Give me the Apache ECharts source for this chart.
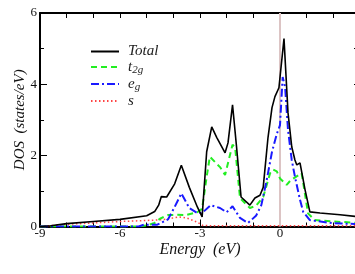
<!DOCTYPE html>
<html><head><meta charset="utf-8">
<script src="https://cdn.jsdelivr.net/npm/echarts@6/dist/echarts.min.js"></script>
<style>html,body{margin:0;padding:0;overflow:hidden;background:#fff;width:355px;height:274px}#c{width:355px;height:274px}</style>
</head><body><div id="c"></div>
<script>
const seriesNames = ['Total', 't2g', 'eg', 's'];
const totalE = [-9,-8.6,-8,-7,-6,-5,-4.7,-4.55,-4.45,-4.25,-3.95,-3.7,-3.4,-3.1,-2.92,-2.75,-2.56,-2.37,-2.06,-1.95,-1.78,-1.63,-1.46,-1.13,-0.94,-0.75,-0.63,-0.45,-0.3,-0.19,-0.04,0.15,0.3,0.44,0.56,0.63,0.75,0.81,0.94,1.12,1.5,2.25,3];
const totalV = [0,0.02,0.08,0.14,0.2,0.3,0.42,0.6,0.84,0.83,1.2,1.72,1.1,0.55,0.27,2.1,2.8,2.5,2.07,2.35,3.42,2.24,0.83,0.6,0.8,0.88,1.1,2.5,3.34,3.65,3.9,5.28,3.2,2.24,1.87,1.73,1.79,1.82,1.03,0.41,0.38,0.33,0.27];
const t2gE = [-9,-5.3,-5.0,-4.7,-4.5,-4.2,-3.9,-3.55,-3.1,-2.92,-2.75,-2.63,-2.25,-2.06,-1.78,-1.68,-1.5,-1.13,-0.9,-0.63,-0.37,-0.26,-0.12,0,0.25,0.4,0.81,0.94,1.05,1.3,2,3];
const t2gV = [0,0,0.03,0.1,0.22,0.32,0.33,0.32,0.4,0.5,1.4,1.96,1.67,1.45,2.3,2.2,0.8,0.52,0.58,0.83,1.5,1.6,1.55,1.35,1.17,1.3,1.5,0.9,0.37,0.18,0.14,0.1];
const egE = [-9,-5.3,-5.1,-4.6,-4.2,-3.95,-3.7,-3.4,-3.1,-2.92,-2.6,-2.25,-2.0,-1.78,-1.5,-1.2,-0.9,-0.7,-0.5,-0.3,-0.12,0,0.1,0.19,0.3,0.44,0.56,0.75,0.87,1.12,2,3];
const egV = [0,0,0.05,0.05,0.2,0.55,0.93,0.52,0.38,0.38,0.6,0.52,0.4,0.57,0.24,0.1,0.3,0.6,1.3,2.1,2.6,2.85,4.2,3.93,2.72,1.87,1.4,0.75,0.41,0.18,0.09,0.07];
const sE = [-9,-8.5,-8,-7,-6,-5,-4.4,-3.8,-3.5,-3.1,-2.9,-2.5,3];
const sV = [0,0.03,0.06,0.1,0.14,0.17,0.19,0.27,0.24,0.12,0.03,0.02,0.02];
const fermiLevel = 0;
const xTicks = [-9,-6,-3,0];
const yTicks = [0,2,4,6];

const pairs = (xs, ys) => xs.map((x, i) => [x, ys[i]]);
const serif = '"Liberation Serif","DejaVu Serif",serif';
const chart = echarts.init(document.getElementById('c'), null, {renderer: 'canvas'});
const tickColor = '#000';
const legendText = {
  Total: '{i|Total}',
  t2g: '{i|t}{sub|2g}',
  eg: '{i|e}{sub|g}',
  s: '{i|s}'
};
chart.setOption({
  animation: false,
  grid: {left: 40, right: -5, top: 13, bottom: 47.5, containLabel: false, outerBoundsMode: 'none'},
  legend: {
    orient: 'vertical', left: 85, top: 39, itemWidth: 28, itemHeight: 18, itemGap: 0.5,
    data: seriesNames,
    itemStyle: {opacity: 0},
    formatter: n => legendText[n],
    textStyle: {
      rich: {
        i: {fontFamily: serif, fontStyle: 'italic', fontSize: 15, color: '#222', lineHeight: 18, padding: [0,0,0,4], verticalAlign: 'middle'},
        sub: {fontFamily: serif, fontStyle: 'italic', fontSize: 11, color: '#222', lineHeight: 18, verticalAlign: 'bottom'}
      }
    }
  },
  xAxis: [{
    type: 'value', min: xTicks[0], max: 3, interval: 3, position: 'bottom',
    name: 'Energy  (eV)', nameLocation: 'middle', nameGap: 15, nameMoveOverlap: false,
    nameTextStyle: {fontFamily: serif, fontStyle: 'italic', fontSize: 16, color: '#111'},
    axisLine: {onZero: false, lineStyle: {color: '#000', width: 2}},
    axisTick: {inside: true, length: 7, lineStyle: {color: tickColor}},
    minorTick: {show: true, splitNumber: 3, length: 4, lineStyle: {color: tickColor}},
    axisLabel: {fontFamily: serif, fontSize: 13, color: '#111', margin: 1,
      formatter: v => xTicks.includes(v) ? String(v) : ''},
    splitLine: {show: false}
  }, {
    type: 'value', min: xTicks[0], max: 3, interval: 1, position: 'top',
    axisLine: {onZero: false, lineStyle: {color: '#000', width: 2}},
    axisTick: {inside: true, length: 5, lineStyle: {color: tickColor}},
    axisLabel: {show: false}, splitLine: {show: false}
  }],
  yAxis: [{
    type: 'value', min: yTicks[0], max: 6, interval: 2, position: 'left',
    name: 'DOS  (states/eV)', nameLocation: 'middle', nameGap: 12, nameMoveOverlap: false,
    nameTextStyle: {fontFamily: serif, fontStyle: 'italic', fontSize: 15, color: '#111'},
    axisLine: {onZero: false, lineStyle: {color: '#000', width: 2}},
    axisTick: {inside: true, length: 7, lineStyle: {color: tickColor}},
    minorTick: {show: true, splitNumber: 2, length: 4, lineStyle: {color: tickColor}},
    axisLabel: {fontFamily: serif, fontSize: 13, color: '#111', margin: 3},
    splitLine: {show: false}
  }, {
    type: 'value', min: 0, max: 6, interval: 1, position: 'right',
    axisLine: {onZero: false, lineStyle: {color: '#000', width: 2}},
    axisTick: {inside: true, length: 6, lineStyle: {color: tickColor}},
    axisLabel: {show: false}, splitLine: {show: false}
  }],
  series: [
    {name: 'Total', type: 'line', data: pairs(totalE, totalV), symbol: 'none', z: 5,
      color: '#000', lineStyle: {color: '#000', width: 1.6},
      markLine: {silent: true, symbol: 'none', label: {show: false},
        lineStyle: {color: '#dcc4c4', width: 2, type: 'solid'},
        data: [{xAxis: fermiLevel}], z: 1}},
    {name: 't2g', type: 'line', data: pairs(t2gE, t2gV), symbol: 'none', z: 4,
      color: '#22ee22', lineStyle: {color: '#22ee22', width: 2, type: [6, 4]}},
    {name: 'eg', type: 'line', data: pairs(egE, egV), symbol: 'none', z: 4,
      color: '#1a1aff', lineStyle: {color: '#1a1aff', width: 2, type: [8, 3, 2, 3]}},
    {name: 's', type: 'line', data: pairs(sE, sV), symbol: 'none', z: 3,
      color: '#ff4444', lineStyle: {color: '#ff4444', width: 1.5, type: [1.5, 2.5]}}
  ]
});
</script></body></html>
